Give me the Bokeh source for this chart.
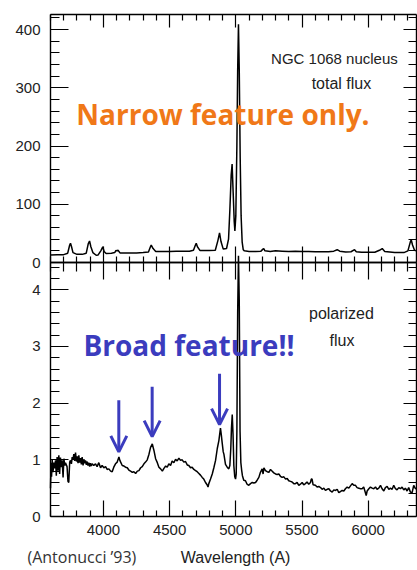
from bokeh.plotting import figure
from bokeh.models import (Range1d, LinearAxis, FixedTicker, Label, Arrow, OpenHead,
                          CustomJSTickFormatter)
from bokeh.embed import file_html
from bokeh.resources import INLINE

# ---------------- data ----------------
# total flux (top panel): wavelength (A), flux
total_wave = [3600, 3650, 3700, 3730, 3745, 3751, 3758, 3770, 3800, 3840, 3870, 3885, 3895,
              3905, 3920, 3945, 3960, 3980, 3995, 4005, 4020, 4060, 4085, 4095, 4102, 4110,
              4125, 4200, 4250, 4300, 4340, 4355, 4361, 4375, 4395, 4450, 4500, 4550, 4600,
              4650, 4680, 4695, 4701, 4710, 4730, 4800, 4845, 4865, 4877, 4888, 4905, 4930,
              4945, 4955, 4965, 4972, 4980, 4988, 4993, 5000, 5008, 5014, 5020, 5026, 5033,
              5040, 5048, 5056, 5065, 5100, 5150, 5190, 5205, 5211, 5220, 5260, 5300, 5350,
              5400, 5450, 5500, 5550, 5600, 5650, 5700, 5740, 5766, 5785, 5830, 5870, 5897,
              5910, 5950, 6000, 6050, 6085, 6106, 6125, 6200, 6270, 6300, 6318, 6325, 6335,
              6350, 6365]
total_flux = [13, 13.5, 13.5, 16, 30, 33, 28, 17, 14, 14, 16, 32, 37,
              27, 17, 12.5, 13, 20, 27, 19, 15.5, 16, 17, 21, 20, 21,
              16.5, 16.5, 16.5, 17, 18, 27, 30, 24, 19, 19, 19, 19.5, 19.5,
              19.5, 21, 30, 33, 27, 20.5, 20.5, 21, 38, 51, 36, 23, 24,
              40, 90, 150, 169, 120, 70, 54, 80, 200, 330, 409, 330, 180,
              80, 35, 22, 20, 19, 19, 19.5, 23, 24, 20, 19, 20, 19.5,
              19, 19.5, 19, 19, 18.5, 18.5, 18.5, 19.5, 22, 19.5, 18, 18.5, 22,
              18.5, 17.5, 17.5, 17.5, 21, 24, 19, 17, 17, 20, 35, 39, 30,
              21, 20]

# polarized flux (bottom panel)
pol_wave = [3600, 3604, 3608, 3613, 3619, 3625, 3631, 3638, 3644, 3650, 3656, 3663, 3669,
            3675, 3682, 3688, 3695, 3701, 3708, 3713, 3725, 3732, 3738, 3745, 3751, 3758,
            3764, 3770, 3776, 3783, 3789, 3796, 3802, 3808, 3814, 3820, 3827, 3833, 3839,
            3846, 3852, 3858, 3864, 3871, 3877, 3883, 3889, 3896, 3902, 3908, 3915, 3927,
            3940, 3952, 3965, 3978, 3990, 4003, 4016, 4028, 4041, 4054, 4066, 4078, 4091,
            4104, 4117, 4124, 4130, 4142, 4155, 4167, 4180, 4192, 4205, 4218, 4230, 4243,
            4256, 4268, 4281, 4293, 4306, 4318, 4331, 4344, 4356, 4369, 4381, 4394, 4407,
            4419, 4432, 4445, 4457, 4470, 4482, 4494, 4507, 4519, 4532, 4545, 4557, 4570,
            4582, 4595, 4607, 4620, 4633, 4645, 4658, 4670, 4683, 4696, 4708, 4721, 4733,
            4746, 4758, 4771, 4783, 4790, 4796, 4809, 4822, 4834, 4847, 4860, 4872, 4884,
            4890, 4897, 4905, 4910, 4922, 4935, 4947, 4955, 4962, 4967, 4973, 4979, 4985,
            4992, 4998, 5003, 5008, 5014, 5020, 5026, 5032, 5038, 5044, 5050, 5060, 5073,
            5085, 5098, 5111, 5124, 5136, 5149, 5161, 5174, 5186, 5199, 5206, 5212, 5224,
            5237, 5250, 5262, 5275, 5287, 5300, 5312, 5325, 5337, 5350, 5363, 5376, 5388,
            5400, 5413, 5425, 5438, 5450, 5463, 5476, 5488, 5501, 5513, 5526, 5538, 5551,
            5564, 5570, 5576, 5584, 5601, 5614, 5627, 5640, 5652, 5665, 5677, 5690, 5703,
            5715, 5728, 5740, 5753, 5766, 5778, 5790, 5803, 5816, 5828, 5841, 5854, 5866,
            5879, 5891, 5904, 5916, 5929, 5941, 5954, 5966, 5979, 5985, 5992, 6005, 6017,
            6030, 6042, 6055, 6067, 6080, 6093, 6105, 6118, 6130, 6143, 6156, 6168, 6181,
            6193, 6206, 6218, 6231, 6244, 6256, 6269, 6281, 6294, 6306, 6319, 6332, 6344,
            6357, 6365]
pol_flux = [0.50, 0.95, 0.70, 1.00, 0.78, 0.95, 0.85, 0.99, 0.72, 1.05, 0.81, 1.08, 0.75,
            1.04, 0.87, 0.99, 0.69, 1.02, 0.90, 0.95, 0.88, 0.62, 0.60, 0.96, 0.99, 0.93,
            1.05, 1.00, 1.10, 0.98, 1.13, 0.97, 1.06, 0.94, 1.08, 0.95, 1.03, 0.92, 1.05,
            0.90, 1.01, 0.94, 0.99, 0.91, 0.97, 0.90, 0.95, 0.88, 0.94, 0.89, 0.93, 0.90,
            0.93, 0.88, 0.95, 0.86, 0.90, 0.86, 0.88, 0.83, 0.84, 0.80, 0.79, 0.87, 0.93,
            0.96, 1.05, 0.99, 0.96, 0.90, 0.89, 0.87, 0.86, 0.82, 0.80, 0.78, 0.79, 0.76,
            0.80, 0.81, 0.86, 0.88, 0.93, 0.96, 1.00, 1.10, 1.22, 1.28, 1.17, 1.02, 0.95,
            0.87, 0.84, 0.80, 0.85, 0.89, 0.87, 0.93, 0.90, 0.98, 0.95, 1.01, 0.98, 1.03,
            0.99, 1.00, 0.96, 0.97, 0.91, 0.90, 0.86, 0.87, 0.83, 0.81, 0.79, 0.76, 0.73,
            0.69, 0.66, 0.60, 0.56, 0.52, 0.58, 0.66, 0.75, 0.86, 0.99, 1.20, 1.34, 1.56,
            1.45, 1.30, 1.14, 1.10, 0.92, 0.87, 0.84, 0.90, 1.20, 1.55, 1.80, 1.45, 0.90,
            0.70, 0.66, 0.75, 1.50, 3.60, 4.60, 3.80, 1.50, 0.95, 0.82, 0.72, 0.64, 0.63,
            0.57, 0.55, 0.58, 0.60, 0.59, 0.60, 0.64, 0.69, 0.78, 0.84, 0.75, 0.86, 0.81,
            0.79, 0.78, 0.83, 0.80, 0.77, 0.75, 0.74, 0.75, 0.71, 0.69, 0.70, 0.66, 0.67,
            0.63, 0.62, 0.61, 0.58, 0.58, 0.60, 0.55, 0.57, 0.60, 0.56, 0.58, 0.61, 0.57,
            0.60, 0.66, 0.66, 0.56, 0.55, 0.52, 0.53, 0.51, 0.48, 0.50, 0.46, 0.48, 0.49,
            0.45, 0.43, 0.47, 0.46, 0.48, 0.42, 0.44, 0.46, 0.45, 0.49, 0.52, 0.50, 0.54,
            0.58, 0.55, 0.55, 0.51, 0.50, 0.49, 0.49, 0.52, 0.42, 0.37, 0.45, 0.49, 0.52,
            0.50, 0.49, 0.52, 0.48, 0.50, 0.55, 0.49, 0.45, 0.51, 0.53, 0.48, 0.50, 0.48,
            0.55, 0.49, 0.47, 0.51, 0.49, 0.52, 0.47, 0.50, 0.45, 0.51, 0.43, 0.42, 0.55,
            0.49, 0.50]

# ticks
x_major = [4000, 4500, 5000, 5500, 6000]
x_minor = [w for w in range(3600, 6400, 100) if w % 500 != 0]
top_major = [0, 100, 200, 300, 400]
top_minor = [v for v in range(20, 440, 20) if v % 100 != 0]
bot_major = [0, 1, 2, 3, 4]
bot_minor = [round(0.2 * i, 1) for i in range(1, 23) if i % 5 != 0]

# broad-feature arrows (wavelength, start value, tip value)
arrow_wave = [4116, 4368, 4877]
arrow_from = [2.05, 2.29, 2.52]
arrow_to = [1.14, 1.41, 1.62]

# ---------------- geometry ----------------
# plot box: wavelength 3600..6365 ; polarized 0..4.482 ; total flux 0..425
X0, X1 = 3600, 6365
DIV = 4.482              # top of the polarized panel
BOX_TOP = 8.858          # top of the box, in polarized units
TOP_END = 425.2          # top of the box, in total-flux units
PX_X = 0.13237           # px per Angstrom
PX_B = 56.67             # px per polarized unit
PX_T = 0.5825            # px per total-flux unit
W, H = 417, 570
LEFT, BOTTOM_Y = 50, 516   # box left edge, zero line of polarized panel (px from top)

x_range = Range1d(X0 - LEFT / PX_X, X0 + (W - LEFT) / PX_X)
y_range = Range1d(-(H - BOTTOM_Y) / PX_B, BOTTOM_Y / PX_B)
div_px = BOTTOM_Y - DIV * PX_B
top_range = Range1d(-(H - div_px) / PX_T, div_px / PX_T)

TICK_FONT = "Liberation Sans"
BLUE = "#3B3CBE"
ORANGE = "#F07818"

p = figure(width=W, height=H, output_backend="svg", toolbar_location=None,
           x_range=x_range, y_range=y_range,
           x_axis_location=None, y_axis_location=None, min_border=0)
p.extra_y_ranges = {"top": top_range}
p.grid.visible = False
p.outline_line_color = None
p.background_fill_color = "white"
p.border_fill_color = "white"

blank = CustomJSTickFormatter(code="return ''")


def axis(loc, ticker, tin, tmin, bounds, labels=False, rng="default", side="below"):
    ax = LinearAxis(ticker=ticker, fixed_location=loc, bounds=bounds, y_range_name=rng)
    ax.major_tick_in = tin
    ax.major_tick_out = 0
    ax.minor_tick_in = tmin
    ax.minor_tick_out = 0
    ax.axis_line_color = "black"
    ax.axis_line_width = 1.4
    ax.major_tick_line_color = "black"
    ax.minor_tick_line_color = "black"
    ax.major_tick_line_width = 1.2
    ax.minor_tick_line_width = 1.2
    if labels:
        ax.major_label_text_font = TICK_FONT
        ax.major_label_text_font_size = "15px"
        ax.major_label_text_color = "#222222"
    else:
        ax.formatter = blank
    p.add_layout(ax, side)
    return ax


xt = FixedTicker(ticks=x_major, minor_ticks=x_minor)
bt = FixedTicker(ticks=bot_major, minor_ticks=bot_minor)
tt = FixedTicker(ticks=top_major, minor_ticks=top_minor)

# bottom wavelength axis
xb = axis(0, xt, 16, 6, (X0, X1), labels=True, side="below")
xb.major_label_standoff = 8
# divider between the panels (ticks up and down)
axis(DIV, xt, 16, 6, (X0, X1), side="below")
axis(DIV, xt, 17, 9, (X0, X1), side="above")
# top edge of the box
axis(BOX_TOP, xt, 13, 6, (X0, X1), side="above")

# left axes
yl_b = axis(X0, bt, 18, 9, (0, DIV), labels=True, side="left")
yl_b.major_label_standoff = 10
yl_t = axis(X0, tt, 18, 9, (0, TOP_END), labels=True, rng="top", side="left")
yl_t.major_label_standoff = 10
# right axes
axis(X1, bt, 13, 8, (0, DIV), side="right")
axis(X1, tt, 13, 8, (0, TOP_END), rng="top", side="right")

# spectra
p.line(total_wave, total_flux, y_range_name="top", line_color="black", line_width=1.5)
p.line(pol_wave, pol_flux, line_color="black", line_width=1.5)

# arrows
for xw, y0, y1 in zip(arrow_wave, arrow_from, arrow_to):
    p.add_layout(Arrow(end=OpenHead(size=16, line_width=3, line_color=BLUE),
                       x_start=xw, y_start=y0, x_end=xw, y_end=y1,
                       line_width=3, line_color=BLUE))


# texts
def lab(x, y, text, size, font=TICK_FONT, color="#222222", align="center", bold=False,
        rng="default"):
    p.add_layout(Label(x=x, y=y, text=text, y_range_name=rng, text_font=font,
                       text_font_size=size, text_color=color, text_align=align,
                       text_baseline="middle",
                       text_font_style="bold" if bold else "normal"))


lab(5745, 349.7, "NGC 1068 nucleus", "15px", rng="top")
lab(5798, 306.8, "total flux", "16px", rng="top")
lab(4903, 255.3, "Narrow feature only.", "28px", font="Open Sans", color=ORANGE, bold=True,
    rng="top")
lab(5798, 3.58, "polarized", "16px")
lab(5802, 3.106, "flux", "16px")
lab(4646, 3.018, "Broad feature!!", "28px", font="Open Sans", color=BLUE, bold=True)
lab(4998, -0.718, "Wavelength (A)", "16px")
lab(3426, -0.718, "(Antonucci ’93)", "16px", font="Open Sans", color="#333333", align="left")

open("out.html", "w").write(file_html(p, INLINE))
